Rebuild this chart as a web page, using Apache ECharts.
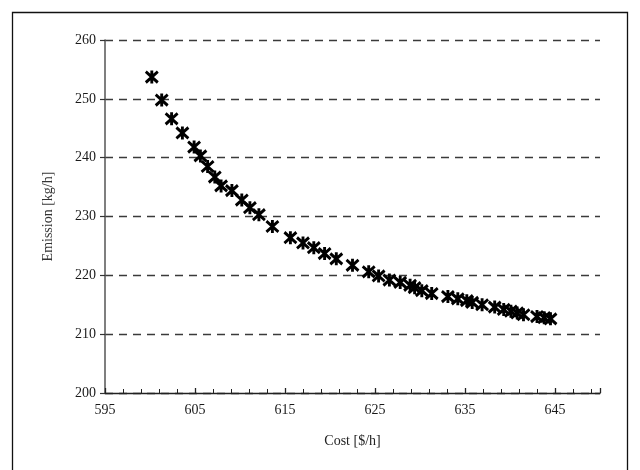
<!DOCTYPE html>
<html>
<head>
<meta charset="utf-8">
<script src="https://cdn.jsdelivr.net/npm/echarts@6/dist/echarts.min.js"></script>
<style>
html,body{margin:0;padding:0;background:#fff;}
#c{width:640px;height:470px;}
</style>
</head>
<body>
<div id="c"></div>
<script>
const costValues = [600.2, 601.3, 602.4, 603.6, 604.9, 605.6, 606.4, 607.2, 607.9, 609.1,
  610.2, 611.1, 612.1, 613.6, 615.6, 617.0, 618.2, 619.4, 620.7, 622.5,
  624.3, 625.4, 626.6, 627.8, 628.9, 629.4, 630.2, 631.3, 633.1, 634.2,
  635.2, 635.8, 636.9, 638.3, 639.3, 640.1, 640.8, 641.5, 643.0, 643.8, 644.5];
const emissionValues = [253.7, 249.8, 246.6, 244.2, 241.8, 240.3, 238.5, 236.7, 235.2, 234.4,
  232.8, 231.5, 230.3, 228.3, 226.4, 225.5, 224.7, 223.7, 222.8, 221.7,
  220.6, 219.9, 219.2, 218.8, 218.3, 217.9, 217.4, 216.9, 216.4, 216.0,
  215.7, 215.4, 215.0, 214.6, 214.2, 213.9, 213.6, 213.3, 213.0, 212.8, 212.6];
const xAxisTitle = 'Cost [$/h]';
const yAxisTitle = 'Emission [kg/h]';

const points = costValues.map((c, i) => [c, emissionValues[i]]);
const font = 'Liberation Serif';

const chart = echarts.init(document.getElementById('c'), null, {renderer: 'canvas'});
chart.setOption({
  animation: false,
  backgroundColor: '#fff',
  grid: {left: 105, top: 40, width: 495, height: 353, containLabel: false},
  graphic: [{
    type: 'rect', silent: true,
    shape: {x: 12.5, y: 12.5, width: 615, height: 480},
    style: {fill: 'none', stroke: '#111', lineWidth: 1.3}
  }],
  xAxis: {
    type: 'value', min: 595, max: 650, interval: 10,
    name: xAxisTitle, nameLocation: 'middle', nameGap: 41,
    nameTextStyle: {fontFamily: font, fontSize: 14, color: '#222'},
    axisLine: {show: true, onZero: false, lineStyle: {color: '#222', width: 1.3}},
    axisTick: {show: true, inside: true, length: 5, lineStyle: {color: '#222', width: 1.3}},
    minorTick: {show: true, splitNumber: 5, length: 4, lineStyle: {color: '#222', width: 1}},
    axisLabel: {fontFamily: font, fontSize: 14, color: '#1a1a1a', margin: 10, showMaxLabel: false},
    splitLine: {show: false}
  },
  yAxis: {
    type: 'value', min: 200, max: 260, interval: 10,
    name: yAxisTitle, nameLocation: 'middle', nameGap: 50, nameRotate: 90,
    nameTextStyle: {fontFamily: font, fontSize: 14, color: '#333'},
    axisLine: {show: true, onZero: false, lineStyle: {color: '#555', width: 1.5}},
    axisTick: {show: true, inside: false, length: 5, lineStyle: {color: '#333', width: 1.2}},
    axisLabel: {fontFamily: font, fontSize: 14, color: '#1a1a1a', margin: 9},
    splitLine: {show: true, lineStyle: {color: '#3a3a3a', width: 1.3, type: [8, 6]}}
  },
  series: [{
    type: 'scatter',
    data: points,
    symbol: 'path://M-5,-5L5,5M-5,5L5,-5M0,-6L0,6',
    symbolSize: [12, 13],
    itemStyle: {color: '#000', borderColor: '#000', borderWidth: 3, opacity: 1}
  }]
});
</script>
</body>
</html>
